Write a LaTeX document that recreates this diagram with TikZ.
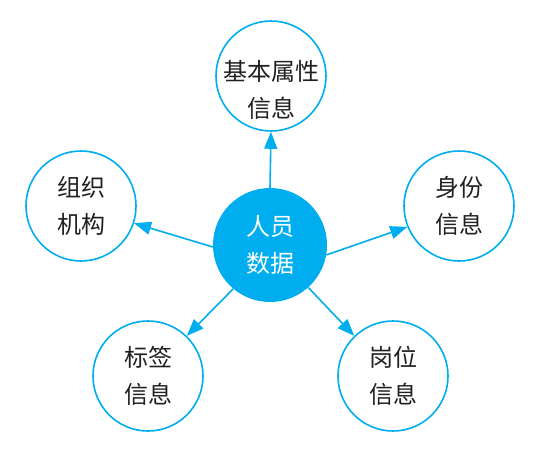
\documentclass[tikz,border=0pt]{standalone}
\usepackage{fontspec}
\newfontfamily\cjk{Noto Sans CJK SC}
\usetikzlibrary{arrows.meta}
\definecolor{infoblue}{RGB}{0,174,239}
\definecolor{inktext}{RGB}{35,31,32}

\begin{document}
\begin{tikzpicture}[x=1pt, y=-1pt,
  every node/.style={font=\cjk\fontsize{24}{37.5}\selectfont, align=center},
  every label/.style={text=inktext},
  hub/.style={circle, fill=infoblue, text=white, minimum size=114pt, inner sep=0pt},
  leaf/.style={circle, draw=infoblue, line width=1.6pt, text=inktext,
    minimum size=110pt, inner sep=0pt},
  link/.style={draw=infoblue, line width=1.6pt, -{Triangle[length=17pt, width=13pt]}}]
  \useasboundingbox (0,0) rectangle (540,453);
  % centre and the five kinds of information
  \node[hub]  (person)   at (270,245) {人员\\数据};
  \node[leaf, label={[yshift=-14pt]center:{基本属性\\信息}}] (basic) at (271,76) {};
  \node[leaf] (org)      at (81,206)  {组织\\机构};
  \node[leaf] (identity) at (459,206) {身份\\信息};
  \node[leaf] (tag)      at (148,376) {标签\\信息};
  \node[leaf] (post)     at (393,376) {岗位\\信息};
  % arrows out of the centre
  \draw[link] (person.90)  -- (basic.270);
  \draw[link] (person.182) -- (org.-18);
  \draw[link] (person.-10) -- (identity.202);
  \draw[link] (person.230) -- (tag.46);
  \draw[link] (person.-48) -- (post.134);
\end{tikzpicture}
\end{document}
